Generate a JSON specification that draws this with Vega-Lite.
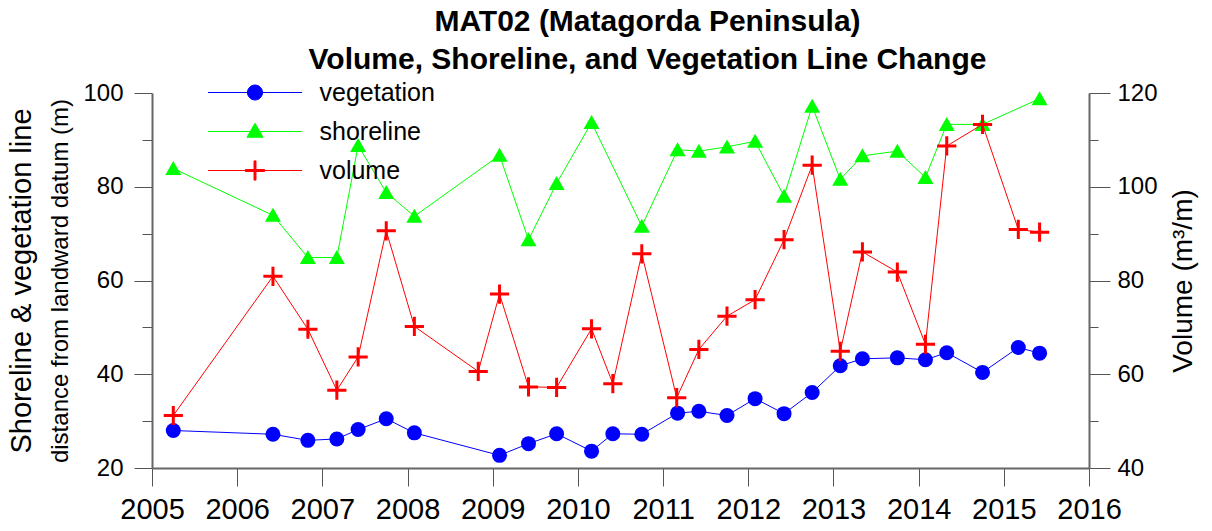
{
  "$schema": "https://vega.github.io/schema/vega-lite/v6.json",
  "width": 937,
  "height": 375,
  "autosize": {"type": "none"},
  "padding": {"left": 152, "top": 93, "right": 123, "bottom": 63},
  "background": "white",
  "config": {"font": "Liberation Sans", "view": {"stroke": null}},
  "title": {
    "text": ["MAT02 (Matagorda Peninsula)", "Volume, Shoreline, and Vegetation Line Change"],
    "fontSize": 30,
    "fontWeight": "bold",
    "lineHeight": 37.6,
    "anchor": "middle",
    "dx": 27,
    "dy": 42,
    "baseline": "bottom",
    "offset": 17,
    "color": "black",
    "font": "Liberation Sans"
  },
  "data": {
    "values": [
      {"t": 2005.25, "series": "vegetation", "value": 28.0},
      {"t": 2006.42, "series": "vegetation", "value": 27.2},
      {"t": 2006.83, "series": "vegetation", "value": 25.9},
      {"t": 2007.17, "series": "vegetation", "value": 26.2},
      {"t": 2007.42, "series": "vegetation", "value": 28.2},
      {"t": 2007.75, "series": "vegetation", "value": 30.5},
      {"t": 2008.08, "series": "vegetation", "value": 27.5},
      {"t": 2009.08, "series": "vegetation", "value": 22.7},
      {"t": 2009.42, "series": "vegetation", "value": 25.2},
      {"t": 2009.75, "series": "vegetation", "value": 27.3},
      {"t": 2010.16, "series": "vegetation", "value": 23.6},
      {"t": 2010.41, "series": "vegetation", "value": 27.3},
      {"t": 2010.75, "series": "vegetation", "value": 27.2},
      {"t": 2011.17, "series": "vegetation", "value": 31.7},
      {"t": 2011.42, "series": "vegetation", "value": 32.1},
      {"t": 2011.75, "series": "vegetation", "value": 31.2},
      {"t": 2012.08, "series": "vegetation", "value": 34.8},
      {"t": 2012.42, "series": "vegetation", "value": 31.6},
      {"t": 2012.75, "series": "vegetation", "value": 36.1},
      {"t": 2013.08, "series": "vegetation", "value": 41.8},
      {"t": 2013.34, "series": "vegetation", "value": 43.3},
      {"t": 2013.75, "series": "vegetation", "value": 43.5},
      {"t": 2014.08, "series": "vegetation", "value": 43.1},
      {"t": 2014.33, "series": "vegetation", "value": 44.6},
      {"t": 2014.75, "series": "vegetation", "value": 40.4},
      {"t": 2015.17, "series": "vegetation", "value": 45.7},
      {"t": 2015.42, "series": "vegetation", "value": 44.5},
      {"t": 2005.25, "series": "shoreline", "value": 83.9},
      {"t": 2006.42, "series": "shoreline", "value": 73.9},
      {"t": 2006.83, "series": "shoreline", "value": 64.9},
      {"t": 2007.17, "series": "shoreline", "value": 64.9},
      {"t": 2007.42, "series": "shoreline", "value": 88.8},
      {"t": 2007.75, "series": "shoreline", "value": 78.8},
      {"t": 2008.08, "series": "shoreline", "value": 73.7},
      {"t": 2009.08, "series": "shoreline", "value": 86.7},
      {"t": 2009.42, "series": "shoreline", "value": 68.7},
      {"t": 2009.75, "series": "shoreline", "value": 80.7},
      {"t": 2010.16, "series": "shoreline", "value": 93.7},
      {"t": 2010.75, "series": "shoreline", "value": 71.6},
      {"t": 2011.17, "series": "shoreline", "value": 87.9},
      {"t": 2011.42, "series": "shoreline", "value": 87.6},
      {"t": 2011.75, "series": "shoreline", "value": 88.5},
      {"t": 2012.08, "series": "shoreline", "value": 89.7},
      {"t": 2012.42, "series": "shoreline", "value": 78.0},
      {"t": 2012.75, "series": "shoreline", "value": 97.2},
      {"t": 2013.08, "series": "shoreline", "value": 81.6},
      {"t": 2013.34, "series": "shoreline", "value": 86.6},
      {"t": 2013.75, "series": "shoreline", "value": 87.6},
      {"t": 2014.08, "series": "shoreline", "value": 82.0},
      {"t": 2014.33, "series": "shoreline", "value": 93.3},
      {"t": 2014.75, "series": "shoreline", "value": 93.3},
      {"t": 2015.42, "series": "shoreline", "value": 98.8},
      {"t": 2005.25, "series": "volume", "value": 51.2},
      {"t": 2006.42, "series": "volume", "value": 80.9},
      {"t": 2006.83, "series": "volume", "value": 69.6},
      {"t": 2007.17, "series": "volume", "value": 56.6},
      {"t": 2007.42, "series": "volume", "value": 63.7},
      {"t": 2007.75, "series": "volume", "value": 90.6},
      {"t": 2008.08, "series": "volume", "value": 70.2},
      {"t": 2008.83, "series": "volume", "value": 60.6},
      {"t": 2009.08, "series": "volume", "value": 77.1},
      {"t": 2009.42, "series": "volume", "value": 57.3},
      {"t": 2009.75, "series": "volume", "value": 57.2},
      {"t": 2010.16, "series": "volume", "value": 69.7},
      {"t": 2010.41, "series": "volume", "value": 58.0},
      {"t": 2010.75, "series": "volume", "value": 85.7},
      {"t": 2011.16, "series": "volume", "value": 55.0},
      {"t": 2011.42, "series": "volume", "value": 65.3},
      {"t": 2011.75, "series": "volume", "value": 72.4},
      {"t": 2012.08, "series": "volume", "value": 75.9},
      {"t": 2012.42, "series": "volume", "value": 88.7},
      {"t": 2012.75, "series": "volume", "value": 104.6},
      {"t": 2013.08, "series": "volume", "value": 64.9},
      {"t": 2013.34, "series": "volume", "value": 86.1},
      {"t": 2013.75, "series": "volume", "value": 81.8},
      {"t": 2014.08, "series": "volume", "value": 66.4},
      {"t": 2014.33, "series": "volume", "value": 108.7},
      {"t": 2014.75, "series": "volume", "value": 113.3},
      {"t": 2015.17, "series": "volume", "value": 90.9},
      {"t": 2015.42, "series": "volume", "value": 90.3}
    ]
  },
  "encoding": {
    "x": {
      "field": "t",
      "type": "quantitative",
      "scale": {"domain": [2005, 2016], "nice": false, "zero": false},
      "axis": {
        "title": null,
        "values": [2005, 2006, 2007, 2008, 2009, 2010, 2011, 2012, 2013, 2014, 2015, 2016],
        "format": "d",
        "grid": false,
        "tickSize": 18,
        "tickColor": "#555555",
        "tickWidth": 1,
        "domainColor": "#666666",
        "domainWidth": 2,
        "labelFontSize": 29,
        "labelColor": "black",
        "labelPadding": 9,
        "labelFlush": false,
        "labelOverlap": false,
        "labelBound": false
      }
    }
  },
  "layer": [
    {
      "transform": [{"filter": "datum.series !== 'volume'"}],
      "encoding": {
        "y": {
          "field": "value",
          "type": "quantitative",
          "scale": {"domain": [20, 100], "nice": false, "zero": false},
          "axis": {
            "orient": "left",
            "title": "Shoreline & vegetation line",
            "titleFontSize": 29,
            "titleFontWeight": "normal",
            "titleColor": "black",
            "titlePadding": 46,
            "values": [20, 30, 40, 50, 60, 70, 80, 90, 100],
            "labelExpr": "datum.value % 20 === 0 ? datum.label : ''",
            "grid": false,
            "tickSize": {"condition": {"test": "datum.value % 20 === 0", "value": 18}, "value": 10},
            "tickColor": "#555555",
            "tickWidth": 1,
            "domainColor": "#666666",
            "domainWidth": 2,
            "labelFontSize": 24,
            "labelColor": "black",
            "labelPadding": 11,
            "labelFlush": false,
            "labelOverlap": false,
            "labelBound": false
          }
        },
        "color": {
          "field": "series",
          "type": "nominal",
          "scale": {"domain": ["vegetation", "shoreline", "volume"], "range": ["#0000ff", "#00ff00", "#ff0000"]},
          "legend": {
            "orient": "none",
            "legendX": 90.5,
            "legendY": -13,
            "title": null,
            "padding": 0,
            "labelFontSize": 25,
            "labelColor": "black",
            "labelOffset": 52,
            "symbolSize": 225,
            "rowPadding": 13,
            "encode": {
              "symbols": {
                "update": {
                  "shape": {"signal": "datum.value === 'vegetation' ? 'M-6.27,0H6.27M1,0A1,1,0,1,1,-1,0A1,1,0,1,1,1,0Z' : datum.value === 'shoreline' ? 'M-6.27,0H6.27M0,-1.1L1.07,0.77L-1.07,0.77Z' : 'M-6.27,0H6.27M-1.28,-0.13H1.28V0.13H-1.28ZM-0.13,-1.28H0.13V1.28H-0.13Z'"},
                  "fill": {"signal": "scale('color', datum.value)"},
                  "stroke": {"signal": "scale('color', datum.value)"},
                  "strokeWidth": {"value": 1},
                  "opacity": {"value": 1},
                  "fillOpacity": {"value": 1},
                  "strokeOpacity": {"value": 1}
                }
              }
            }
          }
        }
      },
      "layer": [
        {"mark": {"type": "line", "strokeWidth": 1}},
        {
          "mark": {"type": "point", "filled": true, "opacity": 1, "size": 225},
          "encoding": {
            "shape": {
              "field": "series",
              "type": "nominal",
              "scale": {"domain": ["vegetation", "shoreline"], "range": ["circle", "M0,-1L1.07,0.87L-1.07,0.87Z"]},
              "legend": null
            }
          }
        }
      ]
    },
    {
      "transform": [{"filter": "datum.series === 'volume'"}],
      "encoding": {
        "y": {
          "field": "value",
          "type": "quantitative",
          "scale": {"domain": [40, 120], "nice": false, "zero": false},
          "axis": {
            "orient": "right",
            "title": "Volume (m³/m)",
            "titleFontSize": 28,
            "titleFontWeight": "normal",
            "titleColor": "black",
            "titleAngle": 270,
            "titleBaseline": "top",
            "titlePadding": 12,
            "values": [40, 50, 60, 70, 80, 90, 100, 110, 120],
            "labelExpr": "datum.value % 20 === 0 ? datum.label : ''",
            "grid": false,
            "tickSize": {"condition": {"test": "datum.value % 20 === 0", "value": 21}, "value": 9},
            "tickColor": "#555555",
            "tickWidth": 1,
            "domainColor": "#666666",
            "domainWidth": 2,
            "labelFontSize": 24,
            "labelColor": "black",
            "labelPadding": 7,
            "labelFlush": false,
            "labelOverlap": false,
            "labelBound": false
          }
        },
        "color": {"field": "series", "type": "nominal"}
      },
      "layer": [
        {"mark": {"type": "line", "strokeWidth": 1}},
        {"mark": {"type": "point", "filled": true, "opacity": 1, "size": 225, "shape": "M-1.28,-0.2H1.28V0.2H-1.28ZM-0.2,-1.28H0.2V1.28H-0.2Z"}}
      ]
    },
    {
      "transform": [{"filter": "datum.series === 'vegetation'"}],
      "mark": {"type": "point", "opacity": 0},
      "encoding": {
        "y": {
          "field": "value",
          "type": "quantitative",
          "scale": {"domain": [20, 100], "nice": false, "zero": false},
          "axis": {
            "orient": "left",
            "title": "distance from landward datum (m)",
            "titleFontSize": 24,
            "titleFontWeight": "normal",
            "titleColor": "black",
            "titlePadding": 80,
            "labels": false,
            "ticks": false,
            "domain": false,
            "grid": false
          }
        }
      }
    }
  ],
  "resolve": {"scale": {"y": "independent"}}
}
